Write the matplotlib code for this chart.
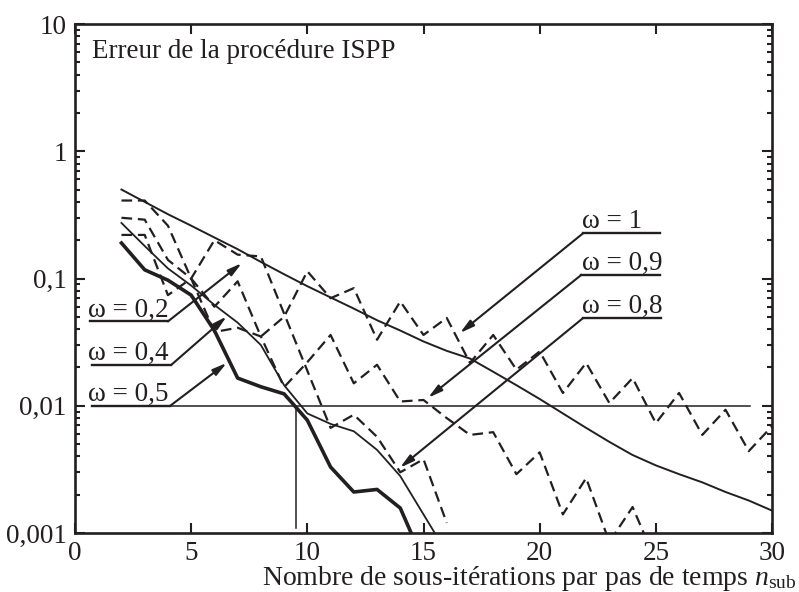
import numpy as np
import matplotlib
matplotlib.use('Agg')
import matplotlib.pyplot as plt

plt.rcParams['font.family'] = ['Liberation Serif', 'DejaVu Serif']
plt.rcParams['mathtext.fontset'] = 'custom'
plt.rcParams['mathtext.rm'] = 'Liberation Serif'
plt.rcParams['mathtext.it'] = 'Liberation Serif:italic'

# ── données ────────────────────────────────────────────────
n_02 = list(range(2, 31))
err_02 = [0.5, 0.40, 0.32, 0.26, 0.21, 0.17, 0.135, 0.108, 0.087, 0.071,
          0.058, 0.047, 0.039, 0.032, 0.027, 0.0235, 0.0185, 0.0145, 0.0113, 0.0087,
          0.0067, 0.0052, 0.0041, 0.0034, 0.0029, 0.0025, 0.0021, 0.0018, 0.0015]

n_04 = list(range(2, 17))
err_04 = [0.273, 0.18, 0.12, 0.088, 0.062, 0.045, 0.03, 0.0145, 0.0087, 0.0072,
          0.0063, 0.0045, 0.0028, 0.0014, 0.0007]

n_05 = list(range(2, 16))
err_05 = [0.19, 0.117, 0.097, 0.074, 0.039, 0.0165, 0.0141, 0.0124, 0.0077, 0.0033,
          0.0021, 0.0022, 0.00157, 0.0006]

n_08 = [2, 3, 4, 5, 6, 7, 8, 11, 12, 13, 14, 15, 16]
err_08 = [0.22, 0.22, 0.074, 0.10, 0.2, 0.154, 0.149, 0.0067, 0.0085, 0.0057, 0.0030,
          0.0038, 0.0012]

n_09 = list(range(2, 26))
err_09 = [0.30, 0.29, 0.14, 0.10, 0.038, 0.041, 0.035, 0.014, 0.022, 0.036,
          0.015, 0.021, 0.0108, 0.0111, 0.008, 0.0059, 0.0062, 0.0029, 0.0043, 0.0014,
          0.0027, 0.00085, 0.0016, 0.0006]

n_1 = list(range(2, 31))
err_1 = [0.41, 0.41, 0.26, 0.10, 0.06, 0.095, 0.035, 0.05, 0.114, 0.070,
         0.084, 0.033, 0.066, 0.036, 0.049, 0.0217, 0.036, 0.0192, 0.0267, 0.0126,
         0.0217, 0.0105, 0.0165, 0.0073, 0.0126, 0.0059, 0.0093, 0.0044, 0.0069]

y_ticks = [0.001, 0.01, 0.1, 1, 10]
y_labels = ['0,001', '0,01', '0,1', '1', '10']
x_ticks = [0, 5, 10, 15, 20, 25, 30]

seuil = 0.01
n_seuil = 9.5

ink = '#231f20'

fig = plt.figure(figsize=(7.99, 5.92), dpi=100)
ax = fig.add_axes([75 / 799, 1 - 533 / 592, 697 / 799, 509 / 592])

dash = (0, (4.8, 2.6))
ax.plot(n_02, err_02, color=ink, lw=1.4)
ax.plot(n_04, err_04, color=ink, lw=1.3)
ax.plot(n_05, err_05, color=ink, lw=2.6)
ax.plot(n_08, err_08, color=ink, lw=1.6, linestyle=dash)
ax.plot(n_09, err_09, color=ink, lw=1.6, linestyle=dash)
ax.plot(n_1, err_1, color=ink, lw=1.6, linestyle=dash)

# seuil 0,01 et n correspondant
ax.plot([0.72, 29.06], [seuil, seuil], color=ink, lw=1.1)
ax.plot([n_seuil, n_seuil], [0.0011, seuil], color=ink, lw=1.1)

ax.set_yscale('log')
ax.set_xlim(0, 30)
ax.set_ylim(0.001, 10)
ax.set_xticks(x_ticks)
ax.set_yticks(y_ticks, y_labels)
ax.tick_params(which='both', direction='in', top=True, right=True,
               labelsize=19.5, width=1.5, colors=ink)
ax.tick_params(which='major', length=7)
ax.tick_params(which='minor', length=3.5)
ax.tick_params(axis='x', pad=6)
ax.tick_params(axis='y', pad=6)
for s in ax.spines.values():
    s.set_linewidth(1.9)
    s.set_color(ink)

ax.text(0.0244, 0.9326, 'Erreur de la procédure ISPP', transform=ax.transAxes,
        fontsize=19.5, ha='left', va='baseline', color=ink)
fig.text(797 / 799, (592 - 585) / 592,
         r'Nombre de sous-itérations par pas de temps $n_{\mathrm{sub}}$',
         fontsize=20, ha='right', va='baseline', color=ink)

# étiquettes ω avec flèches
arrow = dict(arrowstyle='-|>,head_length=0.7,head_width=0.18', color=ink, lw=1.5,
             shrinkA=0, shrinkB=0, mutation_scale=12)
labels = [
    ('ω = 0,2', 0.56, 0.65, 4.0, 0.046, 7.18, 0.132),
    ('ω = 0,4', 0.56, 0.73, 4.15, 0.021, 6.53, 0.0503),
    ('ω = 0,5', 0.56, 0.72, 4.1, 0.01, 6.53, 0.0217),
    ('ω = 1', 21.83, 21.88, 25.2, 0.2275, 16.57, 0.0373),
    ('ω = 0,9', 21.83, 21.8, 25.18, 0.107, 15.2, 0.01156),
    ('ω = 0,8', 21.83, 21.87, 25.22, 0.0489, 13.99, 0.00326),
]
for txt, xt, x0, x1, yl, xa, ya in labels:
    ax.plot([x0, x1], [yl, yl], color=ink, lw=1.7)
    ax.annotate('', xy=(xa, ya), xytext=(x1 if xa > x1 else x0, yl), arrowprops=arrow)
    ax.annotate(txt, xy=(xt, yl), xytext=(0, 5), textcoords='offset pixels',
                fontsize=19.5, ha='left', va='baseline', color=ink)

fig.savefig('out.png', dpi=100)
